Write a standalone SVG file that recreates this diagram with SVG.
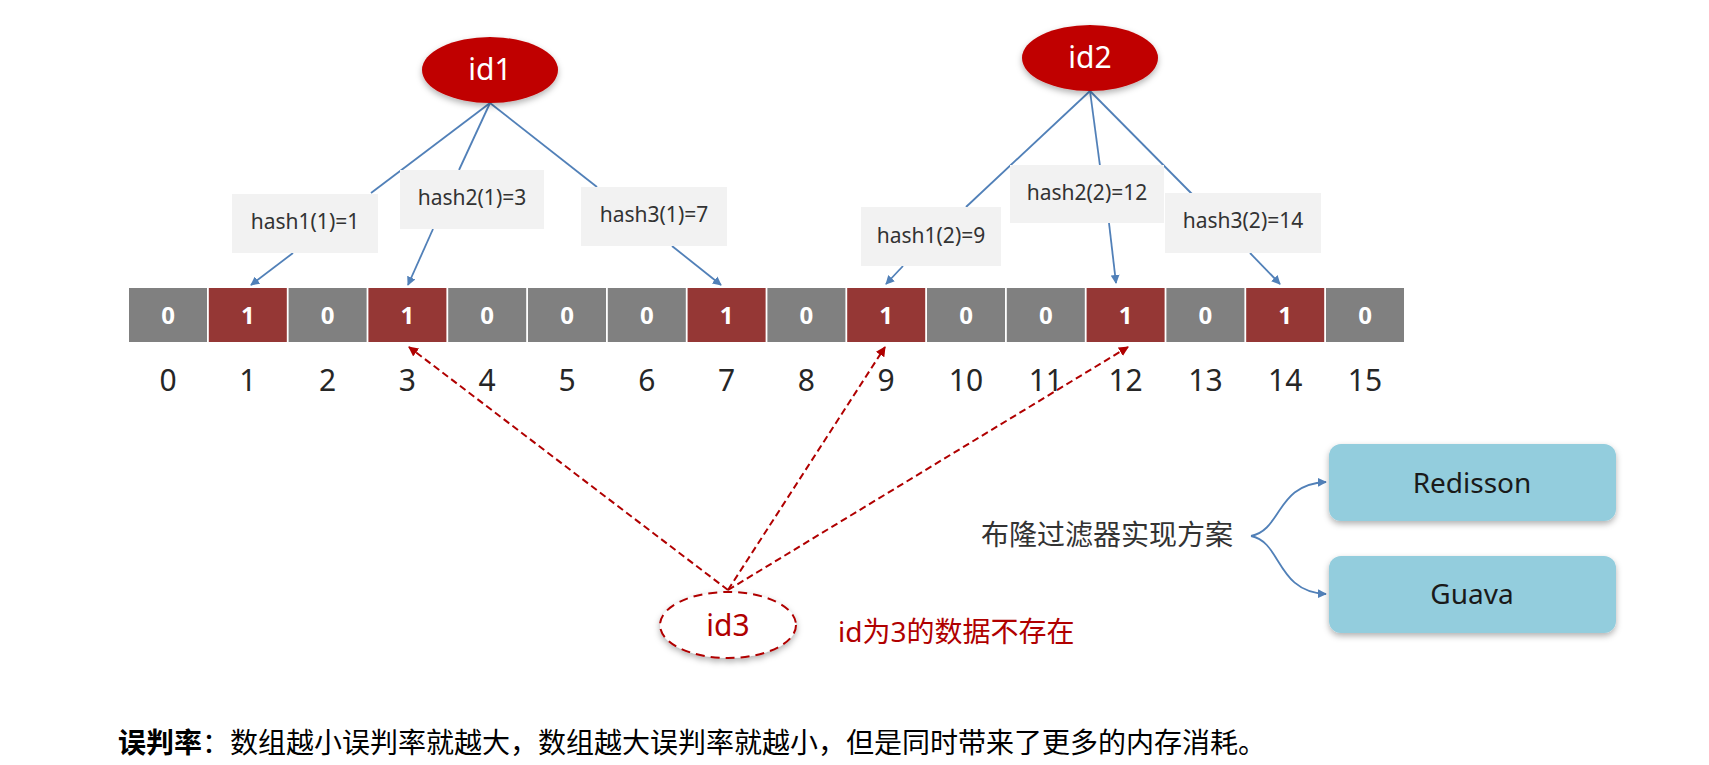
<svg xmlns="http://www.w3.org/2000/svg" width="1709" height="765" viewBox="0 0 1709 765">
  <style>
    .cell0 { fill: #808080; }
    .cell1 { fill: #953735; }
    .bit { font-family: "Open Sans", "Noto Sans", sans-serif; font-weight: bold; font-size: 24px; fill: #ffffff; text-anchor: middle; }
    .idx { font-family: "Noto Sans", "Open Sans", sans-serif; font-size: 30px; fill: #262626; text-anchor: middle; }
    .hbox { fill: #f2f2f2; }
    .htxt { font-family: "Noto Sans", "Open Sans", sans-serif; font-size: 21px; fill: #333333; text-anchor: middle; }
    .idnode { fill: #c00000; }
    .idtxt { font-family: "Noto Sans", "Open Sans", sans-serif; font-size: 30px; fill: #ffffff; text-anchor: middle; }
    .blue { stroke: #5180b8; stroke-width: 1.8; fill: none; }
    .red { stroke: #b00000; stroke-width: 2; stroke-dasharray: 7 4; fill: none; }
    .impl { fill: #93cddd; }
    .impltxt { font-family: "Noto Sans", "Open Sans", sans-serif; font-size: 28px; fill: #1a1a1a; text-anchor: middle; }
    .cjk { font-family: "Noto Sans", "Noto Sans CJK SC", sans-serif; }
  </style>
  <defs>
    <marker id="ab" viewBox="0 0 10 10" refX="9" refY="5" markerWidth="9" markerHeight="9" markerUnits="userSpaceOnUse" orient="auto">
      <path d="M0,0 L10,5 L0,10 z" fill="#5180b8"/>
    </marker>
    <marker id="ar" viewBox="0 0 10 10" refX="9" refY="5" markerWidth="10" markerHeight="10" markerUnits="userSpaceOnUse" orient="auto">
      <path d="M0,0 L10,5 L0,10 z" fill="#b00000"/>
    </marker>
    <filter id="sh" x="-20%" y="-20%" width="140%" height="150%">
      <feDropShadow dx="0" dy="3" stdDeviation="3" flood-color="#000000" flood-opacity="0.3"/>
    </filter>
  </defs>

  <rect x="0" y="0" width="1709" height="765" fill="#ffffff"/>

  <!-- connectors -->
  <g id="connectors">
    <line class="blue" x1="490" y1="103" x2="371" y2="193"/>
    <line class="blue" x1="490" y1="103" x2="459" y2="170"/>
    <line class="blue" x1="490" y1="103" x2="597" y2="187"/>
    <line class="blue" x1="1090" y1="91" x2="966" y2="207"/>
    <line class="blue" x1="1090" y1="91" x2="1100" y2="166"/>
    <line class="blue" x1="1090" y1="91" x2="1192" y2="194"/>

    <line class="blue" x1="293" y1="253" x2="251" y2="285" marker-end="url(#ab)"/>
    <line class="blue" x1="433" y1="229" x2="408" y2="285" marker-end="url(#ab)"/>
    <line class="blue" x1="672" y1="246" x2="721" y2="285" marker-end="url(#ab)"/>
    <line class="blue" x1="903" y1="266" x2="886" y2="284" marker-end="url(#ab)"/>
    <line class="blue" x1="1109" y1="223" x2="1116" y2="283" marker-end="url(#ab)"/>
    <line class="blue" x1="1250" y1="253" x2="1280" y2="284" marker-end="url(#ab)"/>

    <line class="red" x1="728" y1="590" x2="409" y2="347" marker-end="url(#ar)"/>
    <line class="red" x1="728" y1="590" x2="885" y2="347" marker-end="url(#ar)"/>
    <line class="red" x1="728" y1="590" x2="1128" y2="347" marker-end="url(#ar)"/>

    <path class="blue" d="M1251,536 C1282,530 1276,484 1326,482" marker-end="url(#ab)"/>
    <path class="blue" d="M1251,536 C1282,542 1276,592 1326,594" marker-end="url(#ab)"/>
  </g>

  <!-- hash label boxes -->
  <g id="hash1-1"><rect class="hbox" x="232" y="194" width="146" height="59"/><text class="htxt" x="305" y="229">hash1(1)=1</text></g>
  <g id="hash2-1"><rect class="hbox" x="400" y="170" width="144" height="59"/><text class="htxt" x="472" y="205">hash2(1)=3</text></g>
  <g id="hash3-1"><rect class="hbox" x="581" y="187" width="146" height="59"/><text class="htxt" x="654" y="222">hash3(1)=7</text></g>
  <g id="hash1-2"><rect class="hbox" x="861" y="207" width="140" height="59"/><text class="htxt" x="931" y="243">hash1(2)=9</text></g>
  <g id="hash2-2"><rect class="hbox" x="1010" y="165" width="154" height="58"/><text class="htxt" x="1087" y="200">hash2(2)=12</text></g>
  <g id="hash3-2"><rect class="hbox" x="1165" y="193" width="156" height="60"/><text class="htxt" x="1243" y="228">hash3(2)=14</text></g>

  <!-- id nodes -->
  <g id="id1"><ellipse class="idnode" cx="490" cy="70" rx="68" ry="33" filter="url(#sh)"/><text class="idtxt" x="490" y="80">id1</text></g>
  <g id="id2"><ellipse class="idnode" cx="1090" cy="58" rx="68" ry="33" filter="url(#sh)"/><text class="idtxt" x="1090" y="68">id2</text></g>

  <!-- bit array -->
  <g id="bitarray">
    <rect class="cell0" x="129" y="288" width="78" height="54"/>
    <rect class="cell1" x="208.8" y="288" width="78" height="54"/>
    <rect class="cell0" x="288.6" y="288" width="78" height="54"/>
    <rect class="cell1" x="368.4" y="288" width="78" height="54"/>
    <rect class="cell0" x="448.2" y="288" width="78" height="54"/>
    <rect class="cell0" x="528" y="288" width="78" height="54"/>
    <rect class="cell0" x="607.8" y="288" width="78" height="54"/>
    <rect class="cell1" x="687.6" y="288" width="78" height="54"/>
    <rect class="cell0" x="767.4" y="288" width="78" height="54"/>
    <rect class="cell1" x="847.2" y="288" width="78" height="54"/>
    <rect class="cell0" x="927" y="288" width="78" height="54"/>
    <rect class="cell0" x="1006.8" y="288" width="78" height="54"/>
    <rect class="cell1" x="1086.6" y="288" width="78" height="54"/>
    <rect class="cell0" x="1166.4" y="288" width="78" height="54"/>
    <rect class="cell1" x="1246.2" y="288" width="78" height="54"/>
    <rect class="cell0" x="1326" y="288" width="78" height="54"/>

    <text class="bit" x="168" y="324">0</text>
    <text class="bit" x="247.8" y="324">1</text>
    <text class="bit" x="327.6" y="324">0</text>
    <text class="bit" x="407.4" y="324">1</text>
    <text class="bit" x="487.2" y="324">0</text>
    <text class="bit" x="567" y="324">0</text>
    <text class="bit" x="646.8" y="324">0</text>
    <text class="bit" x="726.6" y="324">1</text>
    <text class="bit" x="806.4" y="324">0</text>
    <text class="bit" x="886.2" y="324">1</text>
    <text class="bit" x="966" y="324">0</text>
    <text class="bit" x="1045.8" y="324">0</text>
    <text class="bit" x="1125.6" y="324">1</text>
    <text class="bit" x="1205.4" y="324">0</text>
    <text class="bit" x="1285.2" y="324">1</text>
    <text class="bit" x="1365" y="324">0</text>

    <text class="idx" x="168" y="391">0</text>
    <text class="idx" x="247.8" y="391">1</text>
    <text class="idx" x="327.6" y="391">2</text>
    <text class="idx" x="407.4" y="391">3</text>
    <text class="idx" x="487.2" y="391">4</text>
    <text class="idx" x="567" y="391">5</text>
    <text class="idx" x="646.8" y="391">6</text>
    <text class="idx" x="726.6" y="391">7</text>
    <text class="idx" x="806.4" y="391">8</text>
    <text class="idx" x="886.2" y="391">9</text>
    <text class="idx" x="966" y="391">10</text>
    <text class="idx" x="1045.8" y="391">11</text>
    <text class="idx" x="1125.6" y="391">12</text>
    <text class="idx" x="1205.4" y="391">13</text>
    <text class="idx" x="1285.2" y="391">14</text>
    <text class="idx" x="1365" y="391">15</text>
  </g>

  <!-- id3 -->
  <g id="id3">
    <ellipse cx="728" cy="625" rx="68" ry="33" fill="#ffffff" stroke="#b00000" stroke-width="2" stroke-dasharray="9 6" filter="url(#sh)"/>
    <text x="728" y="636" font-family="Noto Sans, Open Sans, sans-serif" font-size="30" fill="#b00000" text-anchor="middle">id3</text>
  </g>
  <g id="note-id3">
    <text class="cjk" x="838" y="642" font-size="28" fill="#b00000">id为3的数据不存在</text>
  </g>

  <!-- implementations -->
  <g id="impl-label">
    <text class="cjk" x="981" y="545" font-size="28" fill="#333333">布隆过滤器实现方案</text>
  </g>
  <g id="redisson">
    <rect class="impl" x="1329" y="444" width="287" height="77" rx="12" filter="url(#sh)"/>
    <text class="impltxt" x="1472" y="493">Redisson</text>
  </g>
  <g id="guava">
    <rect class="impl" x="1329" y="556" width="287" height="77" rx="12" filter="url(#sh)"/>
    <text class="impltxt" x="1472" y="604">Guava</text>
  </g>

  <!-- footnote -->
  <g id="footnote">
    <text class="cjk" x="118" y="753" font-size="28" fill="#000000"><tspan font-weight="bold">误判率</tspan>：数组越小误判率就越大，数组越大误判率就越小，但是同时带来了更多的内存消耗。</text>
  </g>
</svg>
